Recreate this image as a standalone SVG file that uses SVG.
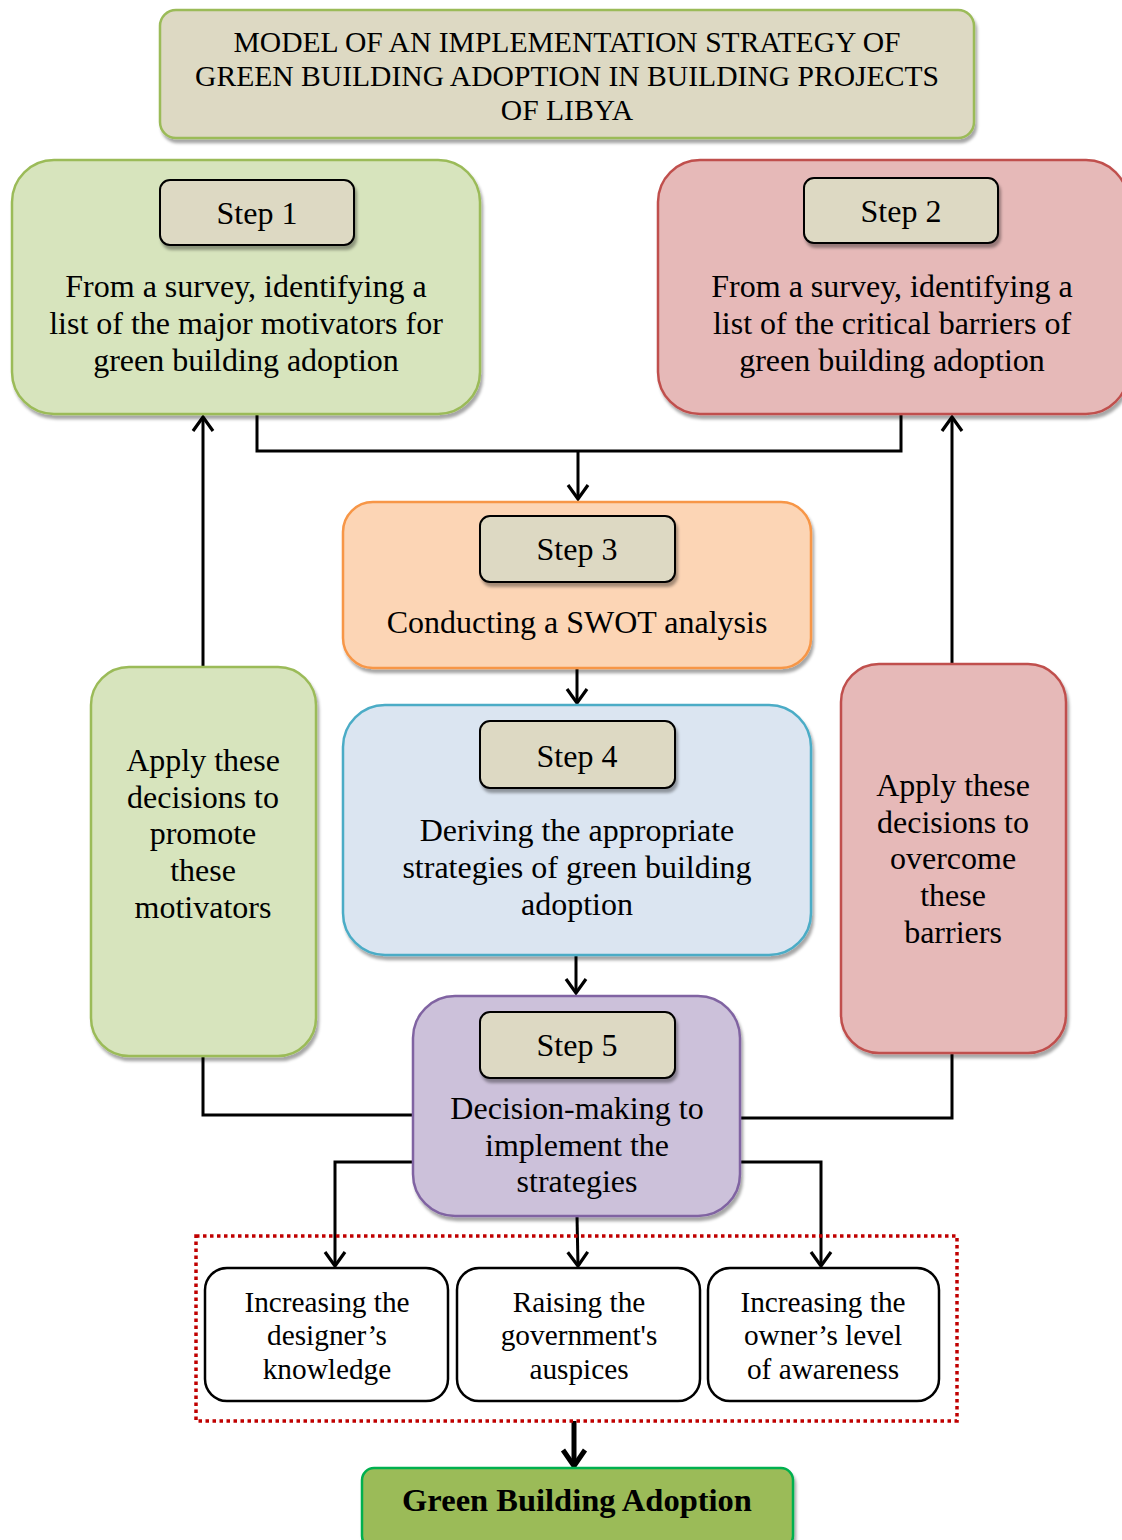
<svg xmlns="http://www.w3.org/2000/svg" width="1122" height="1540" viewBox="0 0 1122 1540">
<defs>
<filter id="sh" x="-10%" y="-10%" width="130%" height="130%">
<feDropShadow dx="2" dy="4" stdDeviation="1.5" flood-color="#000" flood-opacity="0.35"/>
</filter>
<marker id="ah" markerUnits="userSpaceOnUse" markerWidth="26" markerHeight="26" viewBox="0 0 26 26" refX="23" refY="13" orient="auto">
<path d="M9,3 L23,13 L9,23" fill="none" stroke="#000" stroke-width="3.2"/>
</marker>
<marker id="ahb" markerUnits="userSpaceOnUse" markerWidth="30" markerHeight="30" viewBox="0 0 30 30" refX="27" refY="15" orient="auto">
<path d="M11,4 L27,15 L11,26" fill="none" stroke="#000" stroke-width="5"/>
</marker>
</defs>
<style>
text{font-family:"Liberation Serif","Times New Roman",serif;fill:#000;text-anchor:middle}
.t{font-size:32px}
.s{font-size:29.3px}
.ti{font-size:29.6px}
.lbl{fill:#ddd9c3;stroke:#000;stroke-width:2;filter:url(#sh)}
.c{fill:none;stroke:#000;stroke-width:3}
.w{fill:#fff;stroke:#000;stroke-width:2.5}
</style>
<rect width="1122" height="1540" fill="#fff"/>

<g id="connectors">
<path class="c" d="M257,414 V451 H901 V414"/>
<path class="c" d="M578,451 V499" marker-end="url(#ah)"/>
<path class="c" d="M577,668 V703" marker-end="url(#ah)"/>
<path class="c" d="M576,955 V993" marker-end="url(#ah)"/>
<path class="c" d="M413,1115 H203 V1056"/>
<path class="c" d="M203,667 V417" marker-end="url(#ah)"/>
<path class="c" d="M740,1118 H952 V1053"/>
<path class="c" d="M952,664 V417" marker-end="url(#ah)"/>
<path class="c" d="M413,1162 H335 V1266" marker-end="url(#ah)"/>
<path class="c" d="M577,1216 L578,1266" marker-end="url(#ah)"/>
<path class="c" d="M740,1162 H821 V1266" marker-end="url(#ah)"/>
<path d="M574,1421 V1466" fill="none" stroke="#000" stroke-width="5" marker-end="url(#ahb)"/>
</g>

<g id="title">
<rect x="160" y="10" width="814" height="128" rx="16" fill="#ddd9c3" stroke="#9bbb59" stroke-width="2.5" filter="url(#sh)"/>
<text class="ti" x="567" y="52">MODEL OF AN IMPLEMENTATION STRATEGY OF</text>
<text class="ti" x="567" y="86">GREEN BUILDING ADOPTION IN BUILDING PROJECTS</text>
<text class="ti" x="567" y="120">OF LIBYA</text>
</g>

<g id="step1">
<rect x="12" y="160" width="468" height="254" rx="42" fill="#d7e4bd" stroke="#9bbb59" stroke-width="2.5" filter="url(#sh)"/>
<rect class="lbl" x="160" y="180" width="194" height="65" rx="10"/>
<text class="t" x="257" y="224">Step 1</text>
<text class="t" x="246" y="297">From a survey, identifying a</text>
<text class="t" x="246" y="334">list of the major motivators for</text>
<text class="t" x="246" y="371">green building adoption</text>
</g>

<g id="step2">
<rect x="658" y="160" width="470" height="254" rx="42" fill="#e6b9b8" stroke="#c0504d" stroke-width="2.5" filter="url(#sh)"/>
<rect class="lbl" x="804" y="178" width="194" height="65" rx="10"/>
<text class="t" x="901" y="222">Step 2</text>
<text class="t" x="892" y="297">From a survey, identifying a</text>
<text class="t" x="892" y="334">list of the critical barriers of</text>
<text class="t" x="892" y="371">green building adoption</text>
</g>

<g id="step3">
<rect x="343" y="502" width="468" height="166" rx="30" fill="#fcd5b5" stroke="#f79646" stroke-width="2.5" filter="url(#sh)"/>
<rect class="lbl" x="480" y="516" width="195" height="66" rx="10"/>
<text class="t" x="577" y="560">Step 3</text>
<text class="t" x="577" y="633">Conducting a SWOT analysis</text>
</g>

<g id="step4">
<rect x="343" y="705" width="468" height="250" rx="42" fill="#dbe5f1" stroke="#4bacc6" stroke-width="2.5" filter="url(#sh)"/>
<rect class="lbl" x="480" y="721" width="195" height="67" rx="10"/>
<text class="t" x="577" y="767">Step 4</text>
<text class="t" x="577" y="841">Deriving the appropriate</text>
<text class="t" x="577" y="878">strategies of green building</text>
<text class="t" x="577" y="915">adoption</text>
</g>

<g id="step5">
<rect x="413" y="996" width="327" height="220" rx="42" fill="#ccc1da" stroke="#8064a2" stroke-width="2.5" filter="url(#sh)"/>
<rect class="lbl" x="480" y="1012" width="195" height="66" rx="10"/>
<text class="t" x="577" y="1056">Step 5</text>
<text class="t" x="577" y="1119">Decision-making to</text>
<text class="t" x="577" y="1156">implement the</text>
<text class="t" x="577" y="1192">strategies</text>
</g>

<g id="promote">
<rect x="91" y="667" width="225" height="389" rx="38" fill="#d7e4bd" stroke="#9bbb59" stroke-width="2.5" filter="url(#sh)"/>
<text class="t" x="203" y="771">Apply these</text>
<text class="t" x="203" y="808">decisions to</text>
<text class="t" x="203" y="844">promote</text>
<text class="t" x="203" y="881">these</text>
<text class="t" x="203" y="918">motivators</text>
</g>

<g id="overcome">
<rect x="841" y="664" width="225" height="389" rx="38" fill="#e6b9b8" stroke="#c0504d" stroke-width="2.5" filter="url(#sh)"/>
<text class="t" x="953" y="796">Apply these</text>
<text class="t" x="953" y="833">decisions to</text>
<text class="t" x="953" y="869">overcome</text>
<text class="t" x="953" y="906">these</text>
<text class="t" x="953" y="943">barriers</text>
</g>

<g id="outcomes">
<rect x="196" y="1236" width="761" height="185" fill="none" stroke="#c00000" stroke-width="3.5" stroke-dasharray="3.5 3.5"/>
</g>

<g id="designer">
<rect class="w" x="205" y="1268" width="243" height="133" rx="22"/>
<text class="s" x="327" y="1312">Increasing the</text>
<text class="s" x="327" y="1345">designer’s</text>
<text class="s" x="327" y="1379">knowledge</text>
</g>

<g id="government">
<rect class="w" x="457" y="1268" width="243" height="133" rx="22"/>
<text class="s" x="579" y="1312">Raising the</text>
<text class="s" x="579" y="1345">government's</text>
<text class="s" x="579" y="1379">auspices</text>
</g>

<g id="owner">
<rect class="w" x="708" y="1268" width="231" height="133" rx="22"/>
<text class="s" x="823" y="1312">Increasing the</text>
<text class="s" x="823" y="1345">owner’s level</text>
<text class="s" x="823" y="1379">of awareness</text>
</g>

<g id="adoption">
<rect x="362" y="1468" width="431" height="80" rx="12" fill="#9bbb59" stroke="#00b050" stroke-width="2.5" filter="url(#sh)"/>
<text x="577" y="1511" style="font-size:32.5px;font-weight:bold">Green Building Adoption</text>
</g>
</svg>
